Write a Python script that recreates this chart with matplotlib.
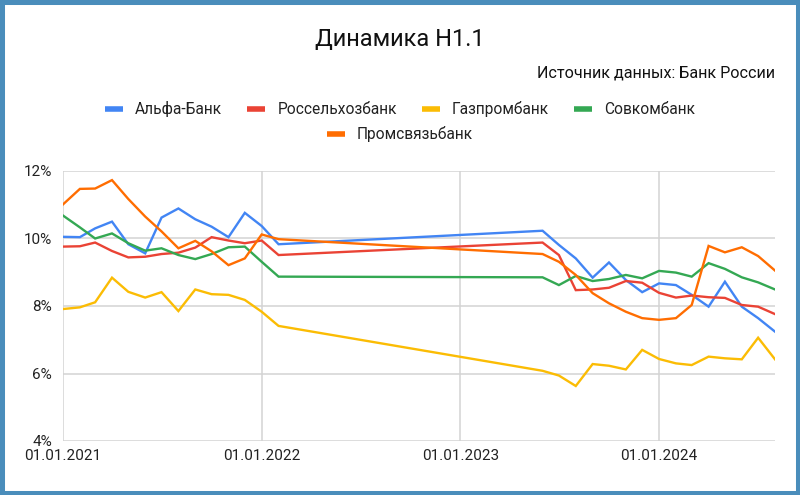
import matplotlib
matplotlib.use("Agg")
import matplotlib.pyplot as plt
import matplotlib.dates as mdates
from matplotlib.lines import Line2D
from matplotlib.patches import Rectangle
import numpy as np

plt.rcParams['font.family'] = ['Roboto', 'DejaVu Sans']

# monthly points: Jan 2021 - Feb 2022, then Jun 2023 - Aug 2024
dates = (list(np.arange('2021-01', '2022-03', dtype='datetime64[M]'))
         + list(np.arange('2023-06', '2024-09', dtype='datetime64[M]')))
dates = np.array(dates, dtype='datetime64[D]')

banks = ["Альфа-Банк", "Россельхозбанк", "Газпромбанк", "Совкомбанк", "Промсвязьбанк"]
colors = ["#4285F4", "#EA4335", "#FBBC04", "#34A853", "#FF6D01"]

alfa = [10.05, 10.04, 10.30, 10.50, 9.83, 9.56, 10.62, 10.89, 10.57, 10.35, 10.04, 10.76, 10.37, 9.83,
        10.23, 9.81, 9.41, 8.84, 9.29, 8.77, 8.41, 8.67, 8.62, 8.33, 7.98, 8.72, 7.98, 7.64, 7.24]
rshb = [9.76, 9.77, 9.88, 9.63, 9.44, 9.46, 9.54, 9.58, 9.73, 10.04, 9.94, 9.86, 9.94, 9.51,
        9.88, 9.51, 8.47, 8.49, 8.54, 8.74, 8.69, 8.39, 8.25, 8.31, 8.26, 8.24, 8.03, 7.98, 7.76]
gpb = [7.91, 7.96, 8.11, 8.84, 8.42, 8.25, 8.41, 7.85, 8.49, 8.35, 8.33, 8.18, 7.83, 7.41,
       6.08, 5.94, 5.63, 6.28, 6.23, 6.12, 6.70, 6.43, 6.30, 6.25, 6.50, 6.45, 6.42, 7.06, 6.42]
sovcom = [10.68, 10.33, 10.00, 10.15, 9.86, 9.64, 9.71, 9.51, 9.39, 9.54, 9.74, 9.76, 9.31, 8.87,
          8.85, 8.62, 8.89, 8.74, 8.80, 8.92, 8.82, 9.04, 8.99, 8.87, 9.27, 9.10, 8.85, 8.70, 8.49]
psb = [11.01, 11.47, 11.48, 11.73, 11.17, 10.65, 10.21, 9.71, 9.93, 9.62, 9.21, 9.41, 10.12, 9.98,
       9.54, 9.31, 8.92, 8.38, 8.08, 7.83, 7.64, 7.59, 7.64, 8.03, 9.78, 9.59, 9.74, 9.48, 9.05]
series = [alfa, rshb, gpb, sovcom, psb]

y_ticks = [4, 6, 8, 10, 12]
x_ticks = np.array(['2021-01-01', '2022-01-01', '2023-01-01', '2024-01-01'], dtype='datetime64[D]')

fig = plt.figure(figsize=(8, 4.95), dpi=100)
ax = fig.add_axes([63/800, 1-441/495, 712/800, 270/495])

for vals, c in zip(series, colors):
    ax.plot(dates, np.array(vals)/100, color=c, lw=1.7, solid_joinstyle='miter', zorder=3)

ax.set_xlim(np.datetime64('2021-01-01'), np.datetime64('2024-08-01'))
ax.set_ylim(0.04, 0.12)
ax.set_yticks([t/100 for t in y_ticks])
ax.set_yticklabels([f"{t}%" for t in y_ticks])
ax.set_xticks(x_ticks)
ax.xaxis.set_major_formatter(mdates.DateFormatter('%d.%m.%Y'))
ax.grid(True, color='#d3d3d3', lw=1.1, zorder=0)
for s in ax.spines.values():
    s.set_visible(False)
ax.tick_params(length=0, labelsize=11, colors='#222222', pad=8)
ax.tick_params(axis='x', pad=6)

fig.text(0.5, 1-40/495, "Динамика Н1.1", ha='center', va='center', fontsize=17, color='#111111')
fig.text(775/800, 1-73/495, "Источник данных: Банк России", ha='right', va='center',
         fontsize=11.6, color='#111111')

handles = [Line2D([], [], color=c, lw=4, solid_capstyle='butt') for c in colors]
leg_kw = dict(loc='center', frameon=False, handlelength=1.15, handletextpad=0.8,
              columnspacing=1.6, fontsize=11.2, labelcolor='#222222', borderaxespad=0, borderpad=0)
fig.legend(handles[:4], banks[:4], ncol=4, bbox_to_anchor=(0.5, 1-109/495), **leg_kw)
fig.legend(handles[4:], banks[4:], ncol=1, bbox_to_anchor=(0.5, 1-134/495), **leg_kw)

fig.patches.append(Rectangle((0, 0), 1, 1, transform=fig.transFigure, fill=False,
                             edgecolor='#4a8dbb', lw=6.5, zorder=10))

fig.savefig("out.png", dpi=100)
